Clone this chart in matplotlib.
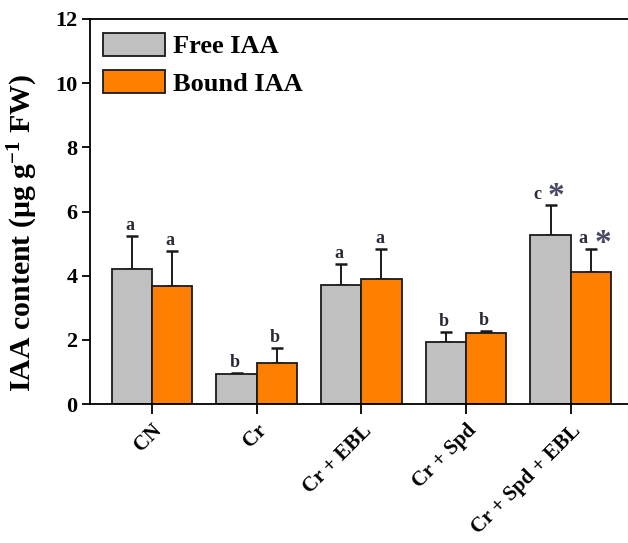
import numpy as np
import matplotlib
matplotlib.use("Agg")
import matplotlib.pyplot as plt

plt.rcParams['font.family'] = ['Liberation Serif', 'DejaVu Serif']
plt.rcParams['font.weight'] = 'bold'
plt.rcParams['mathtext.fontset'] = 'custom'
plt.rcParams['mathtext.bf'] = 'Liberation Serif:bold'
plt.rcParams['mathtext.rm'] = 'Liberation Serif:bold'
plt.rcParams['mathtext.default'] = 'bf'

# data
treatments = ['CN', 'Cr', 'Cr + EBL', 'Cr + Spd', 'Cr + Spd + EBL']
free_iaa = [4.22, 0.92, 3.70, 1.92, 5.27]
free_err = [1.02, 0.05, 0.65, 0.31, 0.92]
bound_iaa = [3.69, 1.27, 3.91, 2.22, 4.10]
bound_err = [1.08, 0.46, 0.91, 0.05, 0.72]
free_letters = ['a', 'b', 'a', 'b', 'c']
bound_letters = ['a', 'b', 'a', 'b', 'a']
free_star = [False, False, False, False, True]
bound_star = [False, False, False, False, True]

fig = plt.figure(figsize=(6.28, 5.43), dpi=100)
W, H = 628, 543
# axes pixel box: left 90, right beyond image (cropped), top 19, bottom 404
ax = fig.add_axes([90 / W, (H - 404) / H, (644 - 90) / W, (404 - 19) / H])

x = np.arange(len(treatments))
w = 0.385
ax.bar(x - w / 2, free_iaa, w, color='#C0C0C0', edgecolor='#1a1a1a', linewidth=1.3,
       label='Free IAA', zorder=2)
ax.bar(x + w / 2, bound_iaa, w, color='#FF8000', edgecolor='#1a1a1a', linewidth=1.3,
       label='Bound IAA', zorder=2)
ax.errorbar(x - w / 2, free_iaa, yerr=[np.zeros(len(x)), free_err], fmt='none',
            ecolor='#1a1a1a', elinewidth=1.4, capsize=4.5, capthick=1.8, zorder=1)
ax.errorbar(x + w / 2, bound_iaa, yerr=[np.zeros(len(x)), bound_err], fmt='none',
            ecolor='#1a1a1a', elinewidth=1.4, capsize=4.5, capthick=1.8, zorder=1)

for i in range(len(x)):
    ytop = free_iaa[i] + free_err[i]
    dx = -0.13 if free_star[i] else -0.02
    ax.text(x[i] - w / 2 + dx, ytop + 0.07, free_letters[i], ha='center', va='bottom',
            fontsize=13, color='#2a2a3a')
    if free_star[i]:
        ax.text(x[i] - w / 2 + 0.05, ytop - 0.22, '*', ha='center', va='bottom',
                fontsize=24, color='#4a4a66')
    ytop = bound_iaa[i] + bound_err[i]
    dx = -0.08 if bound_star[i] else -0.02
    ax.text(x[i] + w / 2 + dx, ytop + 0.07, bound_letters[i], ha='center', va='bottom',
            fontsize=13, color='#2a2a3a')
    if bound_star[i]:
        ax.text(x[i] + w / 2 + 0.12, ytop - 0.3, '*', ha='center', va='bottom',
                fontsize=24, color='#4a4a66')

ax.set_xlim(-0.592, 4.7)
ax.set_ylim(0, 12)
ax.set_yticks(np.arange(0, 13, 2))
ax.set_xticks(x)
ax.set_xticklabels(treatments, rotation=45, ha='right', rotation_mode='anchor',
                   fontsize=15, fontweight='bold')
ax.tick_params(axis='y', direction='out', length=6, width=1.3, labelsize=16, pad=3)
ax.tick_params(axis='x', direction='out', length=7, width=1.3, pad=5)
for lab in ax.get_yticklabels():
    lab.set_fontweight('bold')
ax.spines['right'].set_visible(False)
for s in ['left', 'bottom', 'top']:
    ax.spines[s].set_linewidth(1.3)

ax.set_ylabel('IAA content (μg g$^{-1}$ FW)', fontsize=21.5, fontweight='bold')
ax.yaxis.set_label_coords(-50 / 554, (404 - 233) / 385)

leg = ax.legend(loc='upper left', bbox_to_anchor=(103 / W, (H - 33) / H),
                bbox_transform=fig.transFigure, frameon=False,
                fontsize=19, handlelength=2.35, handleheight=0.95, handletextpad=0.3,
                labelspacing=0.45, borderpad=0, borderaxespad=0)
for t in leg.get_texts():
    t.set_fontweight('bold')

fig.savefig('out.png', dpi=100)
